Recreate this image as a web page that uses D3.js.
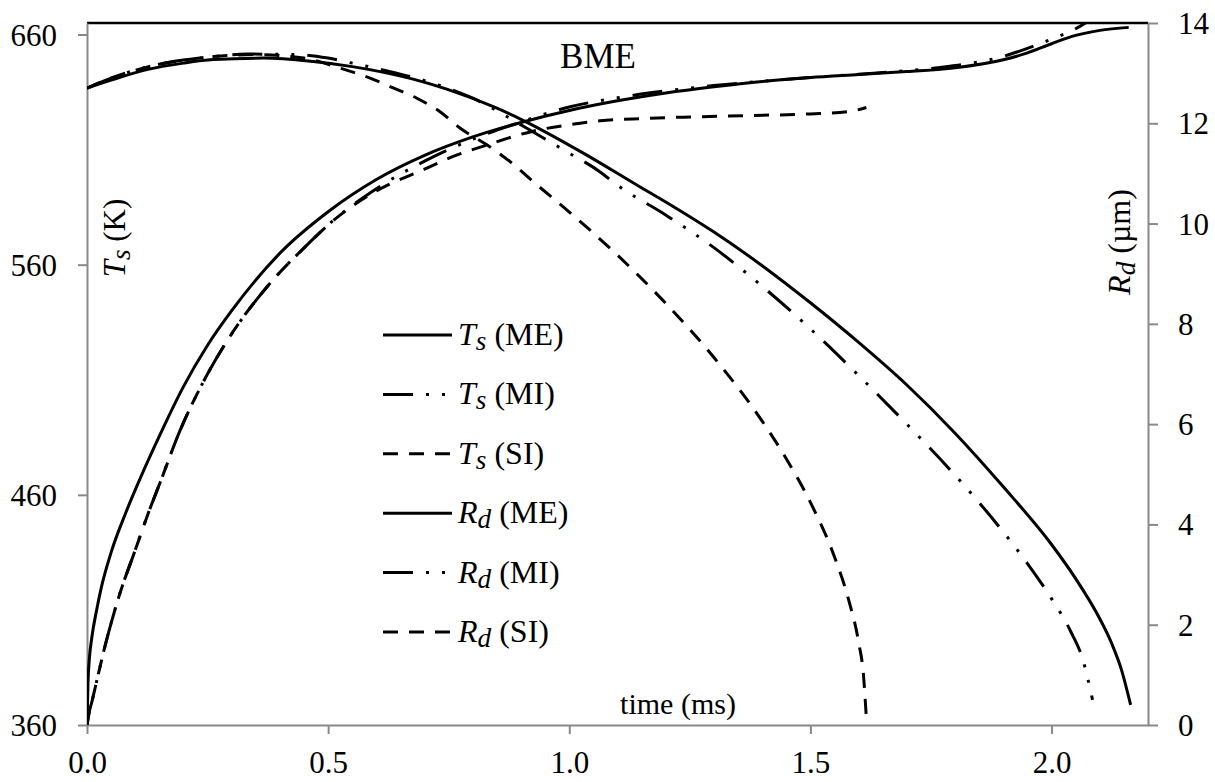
<!DOCTYPE html>
<html>
<head>
<meta charset="utf-8">
<script src="https://cdn.jsdelivr.net/npm/d3@7"></script>
<style>
  body { margin: 0; background: #fff; }
  svg { display: block; }
  text { font-family: "Liberation Serif", "Times New Roman", "DejaVu Serif", serif; fill: #000; }
</style>
</head>
<body>
<div id="chart"></div>
<script>
// Tick values
const timeTicks = [0, 0.5, 1.0, 1.5, 2.0];
const tempTicks = [360, 460, 560, 660];
const radiusTicks = [0, 2, 4, 6, 8, 10, 12, 14];

// Surface temperature T_s (K), [time ms, value]
const tsME = [[0,360],[0.002,378],[0.005,389],[0.01,398],[0.02,410],[0.03,420],[0.05,435],[0.08,452],[0.11,467],[0.15,485.5],[0.2,507],[0.25,525],[0.3,540],[0.4,565],[0.5,583],[0.6,597],[0.7,607.5],[0.8,615.5],[0.9,621.8],[1.0,627],[1.1,631.2],[1.2,634.6],[1.3,637.3],[1.4,639.6],[1.5,641.3],[1.6,642.6],[1.7,643.9],[1.8,645.5],[1.9,649],[1.95,652],[2.0,656],[2.05,659.6],[2.1,661.8],[2.16,663.1]];
const tsMI = [[0,360],[0.005,366],[0.01,370],[0.02,379],[0.037,394],[0.068,417],[0.1,436],[0.127,452],[0.151,465],[0.193,488],[0.241,509],[0.297,529],[0.38,552],[0.456,568.5],[0.504,578],[0.6,593],[0.7,605],[0.8,614.5],[0.9,622],[1.0,628.5],[1.1,632.5],[1.2,635.5],[1.3,637.8],[1.4,639.7],[1.5,641.3],[1.6,642.7],[1.7,644.3],[1.8,646.5],[1.9,650.5],[1.95,654],[2.0,658],[2.05,662.5],[2.085,667]];
const tsSI = [[0,360],[0.005,366],[0.01,370],[0.02,379],[0.037,394],[0.068,417],[0.1,436],[0.127,452],[0.151,465],[0.193,488],[0.241,509],[0.297,529],[0.38,552],[0.456,568.5],[0.504,578],[0.6,592],[0.7,601.5],[0.753,606.5],[0.822,611.5],[0.925,618],[1.0,620.8],[1.064,622.5],[1.15,623.5],[1.237,624.1],[1.376,624.8],[1.5,625.5],[1.58,626.5],[1.616,628.3]];

// Droplet radius R_d (um), [time ms, value]
const rdME = [[0,12.7],[0.05,12.86],[0.124,13.07],[0.2,13.2],[0.262,13.27],[0.366,13.3],[0.469,13.23],[0.55,13.13],[0.608,13.03],[0.68,12.87],[0.746,12.68],[0.85,12.3],[0.902,12.07],[1.03,11.4],[1.14,10.77],[1.2,10.43],[1.3,9.83],[1.4,9.16],[1.5,8.42],[1.6,7.63],[1.7,6.78],[1.8,5.82],[1.9,4.75],[2.0,3.6],[2.05,2.92],[2.1,2.12],[2.125,1.62],[2.145,1.1],[2.164,0.4]];
const rdMI = [[0,12.7],[0.05,12.9],[0.124,13.12],[0.2,13.26],[0.262,13.33],[0.331,13.38],[0.435,13.37],[0.5,13.3],[0.55,13.2],[0.62,13.05],[0.7,12.85],[0.8,12.5],[0.912,11.9],[0.995,11.43],[1.064,11.03],[1.099,10.77],[1.2,10.17],[1.3,9.52],[1.4,8.75],[1.5,7.9],[1.6,6.97],[1.7,6.0],[1.8,4.98],[1.9,3.85],[1.95,3.22],[2.0,2.52],[2.04,1.86],[2.065,1.3],[2.085,0.5]];
const rdSI = [[0,12.7],[0.05,12.9],[0.124,13.12],[0.2,13.26],[0.262,13.33],[0.35,13.37],[0.45,13.3],[0.525,13.1],[0.587,12.9],[0.636,12.7],[0.684,12.5],[0.732,12.23],[0.774,11.9],[0.829,11.57],[0.878,11.23],[0.926,10.83],[1.0,10.23],[1.1,9.37],[1.2,8.41],[1.3,7.33],[1.4,6.06],[1.45,5.31],[1.5,4.44],[1.55,3.35],[1.58,2.47],[1.6,1.65],[1.61,1.0],[1.616,0.14]];

// Layout
const W = 1215, H = 782;
const margin = {left: 87, right: 1148, top: 23, bottom: 725};
const axisColor = '#898989';
const fontSize = 31;
const dashMI = '30,13,3,13,3,13';
const dashSI = '15,11';

const x = d3.scaleLinear().domain([0, 2.2]).range([margin.left, margin.right]);
const yT = d3.scaleLinear().domain([360, 665]).range([margin.bottom, margin.top]);
const yR = d3.scaleLinear().domain([0, 14]).range([margin.bottom, margin.top]);

const svg = d3.select('#chart').append('svg')
  .attr('width', W).attr('height', H);

svg.append('defs').append('clipPath').attr('id', 'plot-clip')
  .append('rect')
  .attr('x', margin.left).attr('y', margin.top)
  .attr('width', margin.right - margin.left).attr('height', margin.bottom - margin.top);

// top border
svg.append('line')
  .attr('x1', margin.left).attr('x2', margin.right)
  .attr('y1', margin.top).attr('y2', margin.top)
  .attr('stroke', '#000').attr('stroke-width', 2.5);

// axes
function styleAxis(g) {
  g.attr('font-family', null);
  g.selectAll('path.domain').attr('stroke', axisColor).attr('stroke-width', 2);
  g.selectAll('.tick line').attr('stroke', axisColor).attr('stroke-width', 2);
  g.selectAll('.tick text')
    .attr('font-size', fontSize).attr('fill', '#000');
}

const xAxis = svg.append('g')
  .attr('transform', `translate(0,${margin.bottom})`)
  .call(d3.axisBottom(x).tickValues(timeTicks).tickFormat(d3.format('.1f')).tickSize(9).tickSizeOuter(0));
styleAxis(xAxis);
xAxis.selectAll('.tick text').attr('y', 48).attr('dy', 0);

const yAxisL = svg.append('g')
  .attr('transform', `translate(${margin.left},0)`)
  .call(d3.axisLeft(yT).tickValues(tempTicks).tickSize(9).tickSizeOuter(0));
styleAxis(yAxisL);
yAxisL.selectAll('.tick text').attr('x', -30).attr('dy', '0.34em');

const yAxisR = svg.append('g')
  .attr('transform', `translate(${margin.right},0)`)
  .call(d3.axisRight(yR).tickValues(radiusTicks).tickSize(10).tickSizeOuter(0));
styleAxis(yAxisR);
yAxisR.selectAll('.tick text').attr('x', 30).attr('dy', '0.34em');

// series
const series = [
  {data: tsME, y: yT, dash: null},
  {data: tsMI, y: yT, dash: dashMI},
  {data: tsSI, y: yT, dash: dashSI},
  {data: rdME, y: yR, dash: null},
  {data: rdMI, y: yR, dash: dashMI},
  {data: rdSI, y: yR, dash: dashSI}
];

const plot = svg.append('g').attr('clip-path', 'url(#plot-clip)');
series.forEach(s => {
  const line = d3.line()
    .x(d => x(d[0]))
    .y(d => s.y(d[1]))
    .curve(d3.curveMonotoneX);
  plot.append('path')
    .datum(s.data)
    .attr('fill', 'none')
    .attr('stroke', '#000')
    .attr('stroke-width', 3)
    .attr('stroke-dasharray', s.dash)
    .attr('d', line);
});

// texts with italic symbol + subscript
function symbolText(sel, main, sub, rest) {
  sel.append('tspan').attr('font-style', 'italic').text(main);
  sel.append('tspan').attr('font-style', 'italic').attr('font-size', fontSize * 0.88).attr('dy', 5).text(sub);
  sel.append('tspan').attr('dy', -5).text(rest);
}

// legend
const legendItems = [
  {main: 'T', sub: 's', rest: ' (ME)', dash: null},
  {main: 'T', sub: 's', rest: ' (MI)', dash: dashMI},
  {main: 'T', sub: 's', rest: ' (SI)', dash: dashSI},
  {main: 'R', sub: 'd', rest: ' (ME)', dash: null},
  {main: 'R', sub: 'd', rest: ' (MI)', dash: dashMI},
  {main: 'R', sub: 'd', rest: ' (SI)', dash: dashSI}
];
const legend = svg.append('g');
legendItems.forEach((d, i) => {
  const cy = 335 + i * 59.4;
  legend.append('line')
    .attr('x1', 383).attr('x2', 452)
    .attr('y1', cy).attr('y2', cy)
    .attr('stroke', '#000').attr('stroke-width', 3)
    .attr('stroke-dasharray', d.dash);
  const t = legend.append('text')
    .attr('x', 458).attr('y', cy + 10)
    .attr('font-size', fontSize + 1);
  symbolText(t, d.main, d.sub, d.rest);
});

// axis titles
const tTitle = svg.append('text')
  .attr('transform', 'translate(125,238) rotate(-90)')
  .attr('text-anchor', 'middle')
  .attr('font-size', fontSize);
symbolText(tTitle, 'T', 's', ' (K)');

const rTitle = svg.append('text')
  .attr('transform', 'translate(1130,242) rotate(-90)')
  .attr('text-anchor', 'middle')
  .attr('font-size', fontSize + 1);
symbolText(rTitle, 'R', 'd', ' (\u00b5m)');

svg.append('text')
  .attr('x', 678).attr('y', 714)
  .attr('text-anchor', 'middle')
  .attr('font-size', 30)
  .text('time (ms)');

svg.append('text')
  .attr('x', 598).attr('y', 68)
  .attr('text-anchor', 'middle')
  .attr('font-size', 35)
  .text('BME');
</script>
</body>
</html>
